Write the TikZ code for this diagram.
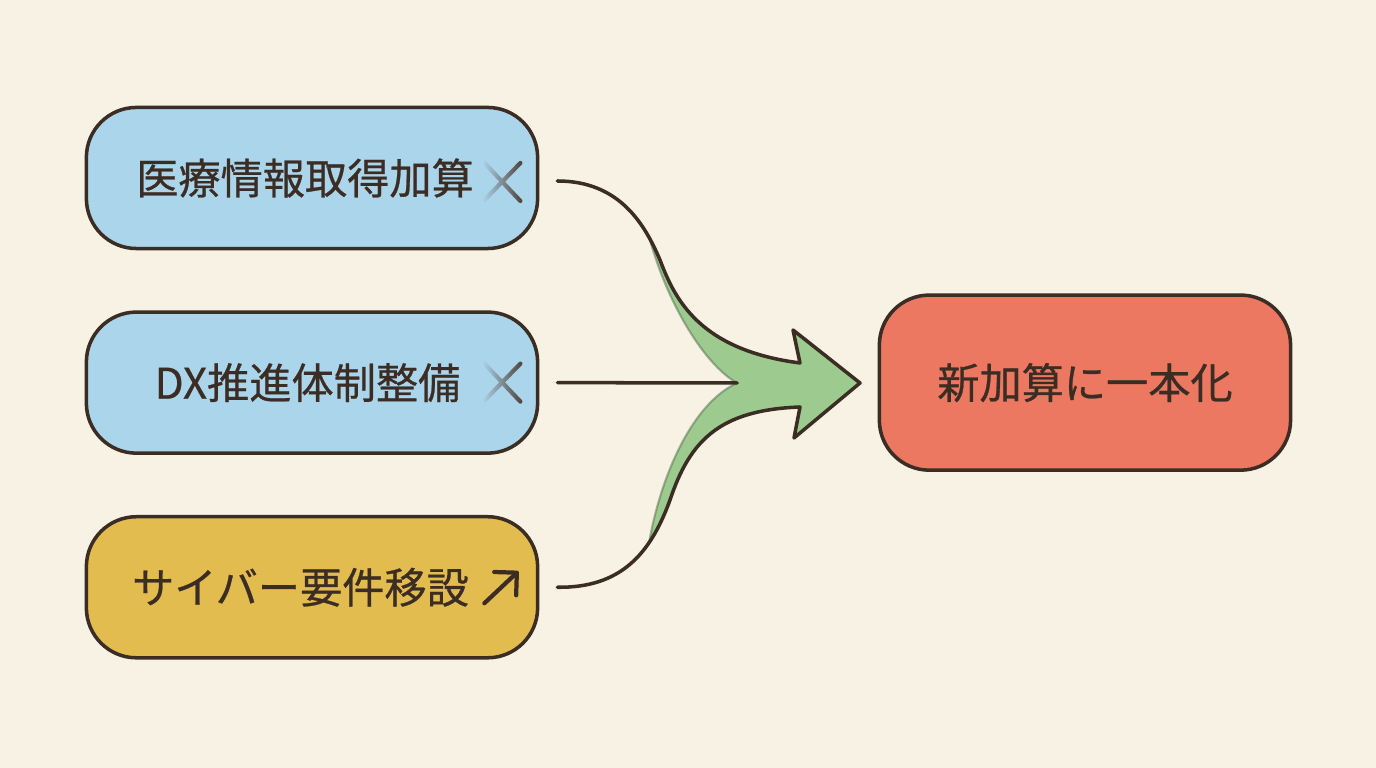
\documentclass[tikz,border=0pt]{standalone}
\usepackage{fontspec}
\setmainfont[FakeBold=0.6]{Noto Sans CJK JP}
\usepackage{xcolor}
\usepackage{tikz}
\usetikzlibrary{shapes, arrows.meta, positioning, fadings}

\definecolor{haikei}{HTML}{F7F2E4}
\definecolor{sumi}{HTML}{3B2C24}
\definecolor{mizu}{HTML}{ABD5EB}
\definecolor{kiiro}{HTML}{E3BC50}
\definecolor{aka}{HTML}{EC7862}
\definecolor{midori}{HTML}{9DCA8F}

\newcommand{\batsu}[1]{%
  \draw[sumi!90, line width=1.2pt, line cap=round, path fading=west, shift={(#1)}]
    (-18,-19) -- (18,19) (-18,18) -- (18,-19);}

\begin{document}
\begin{tikzpicture}[x=0.01cm, y=-0.01cm,
    box/.style={draw=sumi, line width=1pt, rounded corners=0.5cm, minimum width=4.51cm,
      minimum height=1.41cm, text=sumi, font=\fontsize{12}{14}\selectfont},
    line/.style={draw=sumi, line width=1pt, line cap=round, line join=round},
    node distance=0.6cm]
  \fill[haikei] (0,0) rectangle (1376,768);
  \useasboundingbox (0,0) rectangle (1376,768);

  \node[box, fill=mizu] (iryo) at (312,178) {医療情報取得加算\kern1.4mm};
  \node[box, fill=mizu, below=of iryo] (dx) {DX推進体制整備\kern0.9mm};
  \node[box, fill=kiiro, below=of dx] (cyber) {サイバー要件移設\kern2.3mm};
  \node[box, fill=aka, right=3.38cm of dx, minimum width=4.11cm, minimum height=1.75cm] (shin) {新加算に一本化};

  \coordinate (x1) at ([xshift=-0.37cm, yshift=-0.04cm]iryo.east);
  \coordinate (x2) at ([xshift=-0.37cm]dx.east);
  \batsu{x1}
  \batsu{x2}
  \coordinate (ya0) at ([xshift=-0.55cm, yshift=-0.16cm]cyber.east);
  \coordinate (ya1) at ([xshift=-0.21cm, yshift=0.16cm]cyber.east);
  \draw[sumi, line width=1.2pt, line cap=round, -{Straight Barb[round, length=1.6mm, width=3.2mm]}] (ya0) -- (ya1);

  \coordinate (s1) at ([xshift=0.18cm, yshift=-0.03cm]iryo.east);
  \coordinate (s2) at ([xshift=0.18cm]dx.east);
  \coordinate (s3) at ([xshift=0.18cm]cyber.east);
  \coordinate (kyu) at (737,383);
  \coordinate (hu) at (800,363);
  \coordinate (bu) at (793,330);
  \coordinate (tip) at (860,383);
  \coordinate (bl) at (794,438);
  \coordinate (hl) at (800,407);

  \fill[midori] (650,240) -- (660,260) .. controls (675,300) and (700,350) .. (hu) -- (bu) -- (tip) -- (bl) -- (hl)
    .. controls (720,410) and (690,440) .. (670,500) .. controls (664,516) and (656,532) .. (649,543)
    .. controls (660,480) and (690,405) .. (kyu) .. controls (705,365) and (668,305) .. (650,240) -- cycle;
  \draw[midori!55!black, opacity=0.5, line width=0.6pt] (649,543) .. controls (660,480) and (690,405) .. (kyu)
    .. controls (705,365) and (668,305) .. (650,240);

  \draw[line] (s1) .. controls (620,181) and (645,225) .. (660,260) .. controls (675,300) and (700,350) .. (hu)
    -- (bu) -- (tip) -- (bl) -- (hl) .. controls (720,410) and (690,440) .. (670,500)
    .. controls (650,555) and (620,588) .. (s3);
  \draw[line] (s2) -- (kyu);
\end{tikzpicture}
\end{document}
